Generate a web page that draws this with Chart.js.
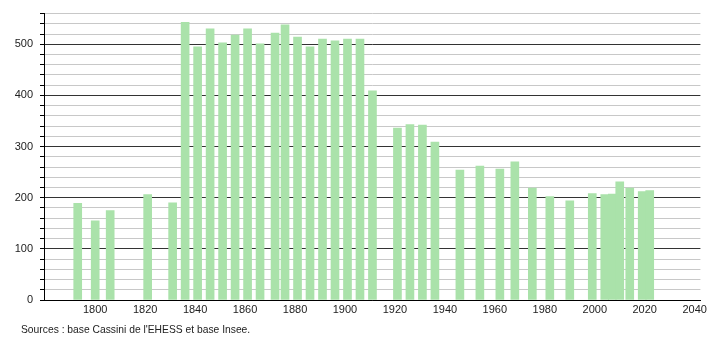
<!DOCTYPE html>
<html>
<head>
<meta charset="utf-8">
<script src="https://cdn.jsdelivr.net/npm/chart.js@4"></script>
<style>
  body { margin: 0; background: #fff; }
  #wrap { position: relative; width: 710px; height: 340px; }
  #source { position: absolute; left: 21px; top: 324px; font: 10.3px "Liberation Sans", Arial, sans-serif; color: #222; }
</style>
</head>
<body>
<div id="wrap">
  <canvas id="popChart" width="710" height="340"></canvas>
  <div id="source">Sources : base Cassini de l'EHESS et base Insee.</div>
</div>
<script>
// census years and population
var years = [1793, 1800, 1806, 1821, 1831, 1836, 1841, 1846, 1851, 1856,
  1861, 1866, 1872, 1876, 1881, 1886, 1891, 1896, 1901, 1906,
  1911, 1921, 1926, 1931, 1936, 1946, 1954, 1962, 1968, 1975,
  1982, 1990, 1999, 2004, 2007, 2010, 2014, 2019, 2022];
var population = [189, 155, 175, 206, 190, 543, 495, 530, 503, 518,
  530, 501, 522, 538, 514, 495, 510, 507, 510, 510,
  409, 336, 343, 342, 309, 254, 262, 256, 270, 219,
  202, 194, 208, 206, 207, 231, 219, 212, 214];
var xTicks = [1800, 1820, 1840, 1860, 1880, 1900, 1920, 1940, 1960, 1980, 2000, 2020, 2040];

var points = years.map(function(y, i) { return { x: y, y: population[i] }; });

var ctx = document.getElementById('popChart').getContext('2d');
var chart = new Chart(ctx, {
  type: 'bar',
  data: {
    datasets: [{
      data: points,
      backgroundColor: 'rgb(170, 226, 170)',
      borderWidth: 0,
      barThickness: 8
    }]
  },
  options: {
    responsive: false,
    animation: false,
    layout: { padding: { top: 4, right: 9, bottom: 22, left: 0 } },
    plugins: { legend: { display: false }, tooltip: { enabled: false } },
    scales: {
      x: {
        type: 'linear',
        min: 1779.5,
        max: 2042.3,
        offset: false,
        afterBuildTicks: function(scale) {
          scale.ticks = xTicks.map(function(v) { return { value: v }; });
        },
        afterFit: function(scale) { scale.height = 18; },
        grid: { display: false, tickLength: 0 },
        border: { display: true, color: '#000', width: 1 },
        ticks: {
          color: '#222',
          padding: 3,
          maxRotation: 0,
          autoSkip: false,
          font: { family: 'Liberation Sans', size: 11 },
          callback: function(v) { return String(v); }
        }
      },
      y: {
        min: 0,
        max: 560,
        afterFit: function(scale) { scale.width = 44; },
        border: { display: true, color: '#000', width: 1 },
        grid: {
          color: function(c) { return c.tick.value % 100 === 0 ? '#333' : '#c8c8c8'; },
          tickColor: '#000',
          tickLength: 4
        },
        ticks: {
          stepSize: 20,
          autoSkip: false,
          color: '#222',
          padding: 7,
          font: { family: 'Liberation Sans', size: 11 },
          callback: function(v) { return v % 100 === 0 ? String(v) : ''; }
        }
      }
    }
  }
});
</script>
</body>
</html>
